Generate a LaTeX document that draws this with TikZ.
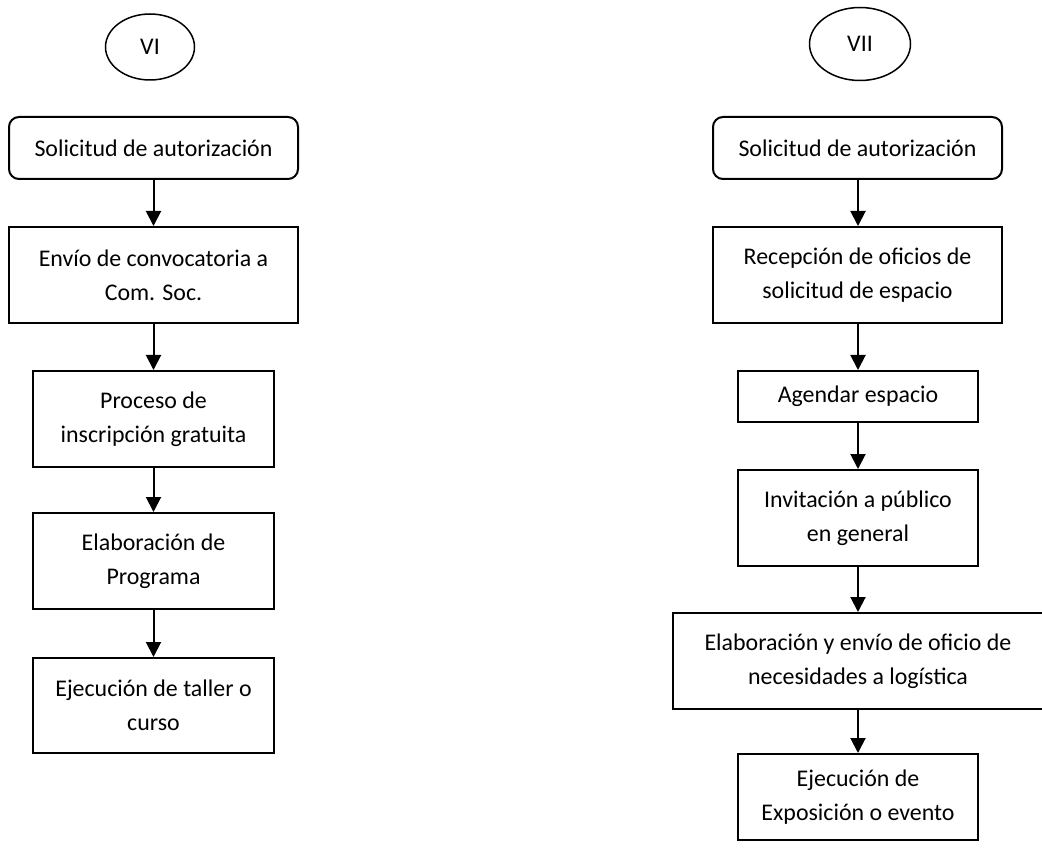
\documentclass[tikz,border=0pt]{standalone}
\usepackage{fontspec}
\setmainfont{Carlito}
\usetikzlibrary{shapes.geometric,arrows.meta}
\begin{document}
\begin{tikzpicture}[x=1pt,y=-1pt,
  every node/.style={font=\fontsize{23.9}{34}\selectfont, align=center, inner sep=0pt, line width=2pt},
  box/.style={draw, rectangle, minimum width=#1, minimum height=96pt},
  startbox/.style={draw, rectangle, rounded corners=10pt, minimum width=289pt, minimum height=62pt},
  oval/.style={draw, ellipse, line width=1.5pt},
  flow/.style={line width=2pt, -{Triangle[width=15pt,length=15pt]}}
]
\useasboundingbox (0,0) rectangle (1042,850);
\fill[white] (0,0) rectangle (1042,850);
% left column
\node[oval, minimum width=89pt, minimum height=66pt] (e6) at (150,47) {VI};
\node[startbox] (l1) at (153.5,148) {Solicitud de autorización};
\node[box=289pt] (l2) at (153.5,275) {Envío de convocatoria a\\Com. Soc.};
\node[box=241pt] (l3) at (153.5,419) {Proceso de\\inscripción gratuita};
\node[box=241pt] (l4) at (153.5,561) {Elaboración de\\Programa};
\node[box=241pt, minimum height=95pt] (l5) at (153.5,705.5) {Ejecución de taller o\\curso};
\draw[flow] (l1) -- (l2);
\draw[flow] (l2) -- (l3);
\draw[flow] (l3) -- (l4);
\draw[flow] (l4) -- (l5);
% right column
\node[oval, minimum width=101pt, minimum height=73pt] (e7) at (860,44) {VII};
\node[startbox] (r1) at (857.5,148) {Solicitud de autorización};
\node[box=289pt] (r2) at (857.5,275) {Recepción de oficios de\\solicitud de espacio};
\node[box=240pt, minimum height=51pt] (r3) at (858,396.5) {Agendar espacio};
\node[box=240pt] (r4) at (858,518) {Invitación a público\\en general};
\node[box=370pt] (r5) at (858,661) {Elaboración y envío de oficio de\\necesidades a logística};
\node[box=240pt, minimum height=86pt] (r6) at (858,797) {Ejecución de\\Exposición o evento};
\draw[flow] (r1.south -| r3.north) -- (r2.north -| r3.north);
\draw[flow] (r2.south -| r3.north) -- (r3);
\draw[flow] (r3) -- (r4);
\draw[flow] (r4) -- (r5);
\draw[flow] (r5) -- (r6);
\end{tikzpicture}
\end{document}
